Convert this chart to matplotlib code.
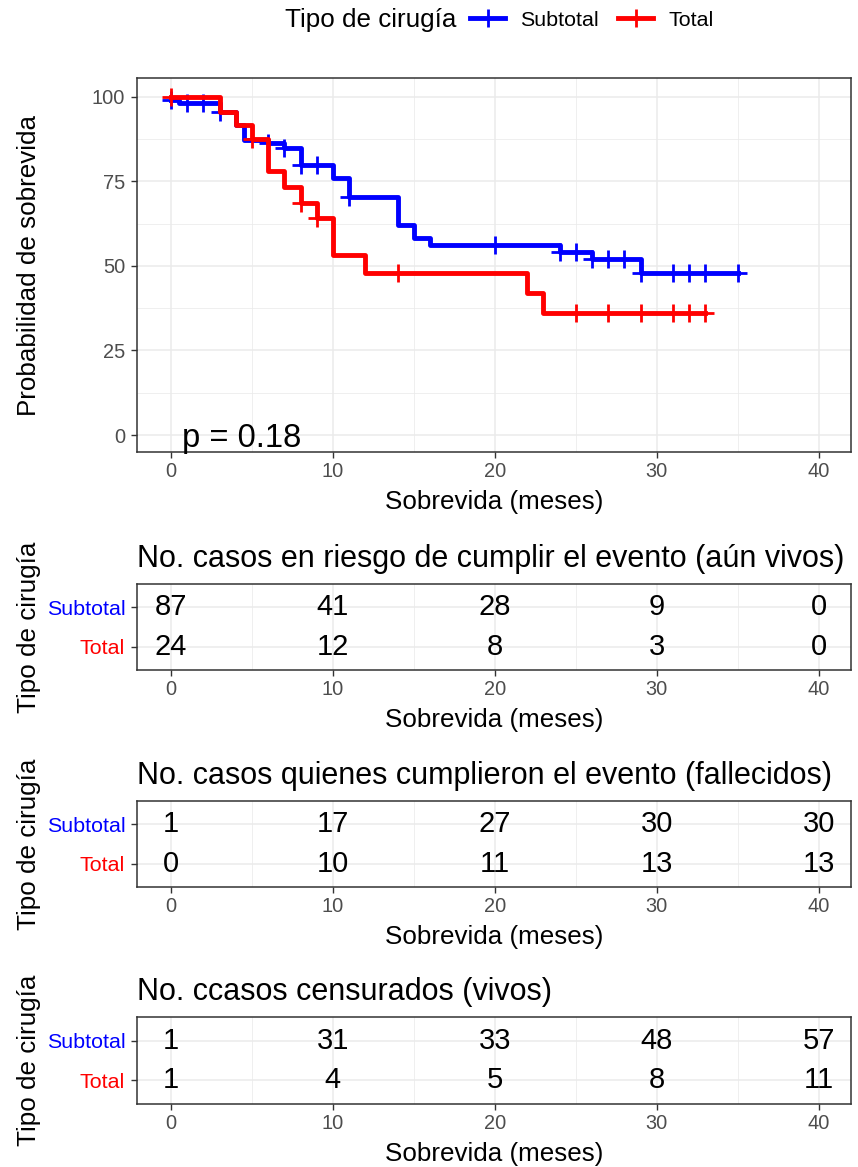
import numpy as np
import matplotlib.pyplot as plt
from matplotlib.lines import Line2D
from matplotlib.ticker import MultipleLocator

plt.rcParams['font.family'] = ['Liberation Sans', 'DejaVu Sans']

BLUE = '#0000FF'
RED = '#FF0000'

# Kaplan-Meier curves (months, % survival)
sub_t = [0, 0.5, 3, 4, 4.5, 6, 7, 8, 10, 11, 14, 15, 16, 24, 26, 29]
sub_s = [98.9, 98.2, 95.4, 91.7, 87.3, 86.3, 84.9, 79.8, 76.0, 70.2, 62.2, 58.3, 56.3, 54.2, 52.0, 48.0]
sub_end = 35
sub_cens = [0, 1, 2, 3, 6, 7, 8, 9, 11, 20, 24, 25, 26, 27, 28, 29, 31, 32, 33, 35]

tot_t = [0, 3, 4, 5, 6, 7, 8, 9, 10, 12, 22, 23]
tot_s = [100, 95.6, 91.7, 87.5, 78.0, 73.3, 68.6, 64.2, 53.3, 48.0, 42.0, 36.0]
tot_end = 33
tot_cens = [0, 5, 8, 9, 14, 25, 27, 29, 31, 32, 33]

p_label = 'p = 0.18'

# tables
table_times = [0, 10, 20, 30, 40]
groups = ['Subtotal', 'Total']
risk_sub = [87, 41, 28, 9, 0]
risk_tot = [24, 12, 8, 3, 0]
event_sub = [1, 17, 27, 30, 30]
event_tot = [0, 10, 11, 13, 13]
cens_sub = [1, 31, 33, 48, 57]
cens_tot = [1, 4, 5, 8, 11]

W, H = 858, 1167
fig = plt.figure(figsize=(W / 100, H / 100), dpi=100)

TITLE_FS = 18.7
TICK_FS = 14.4


def box(left, top, right, bottom):
    return [left / W, 1 - bottom / H, (right - left) / W, (bottom - top) / H]


def style(ax):
    for sp in ax.spines.values():
        sp.set_color('#333333')
        sp.set_linewidth(1.1)
    ax.tick_params(which='major', length=4, width=1.0, color='#333333',
                   labelsize=TICK_FS, labelcolor='#4D4D4D')
    ax.tick_params(axis='x', pad=3)
    ax.tick_params(axis='y', pad=4.5)
    ax.tick_params(which='minor', length=0)
    ax.grid(which='major', color='#EBEBEB', lw=1.1)
    ax.grid(which='minor', color='#EBEBEB', lw=0.55)
    ax.set_axisbelow(True)
    ax.set_xlim(-2.1, 42)
    ax.xaxis.set_major_locator(MultipleLocator(10))
    ax.xaxis.set_minor_locator(MultipleLocator(5))


def surv_at(t, s, x):
    idx = np.searchsorted(t, x, side='right') - 1
    return np.array(s)[idx]


# main survival plot
ax = fig.add_axes(box(137, 78, 851, 452))
style(ax)
for t, s, end, cens, col in [(sub_t, sub_s, sub_end, sub_cens, BLUE),
                             (tot_t, tot_s, tot_end, tot_cens, RED)]:
    ax.step(t + [end], s + [s[-1]], where='post', color=col, lw=3.5)
    ax.plot(cens, surv_at(t, s, cens), ls='none', marker='+', ms=13,
            mew=2.0, color=col)
ax.set_ylim(-5, 105.5)
ax.yaxis.set_major_locator(MultipleLocator(25))
ax.yaxis.set_minor_locator(MultipleLocator(12.5))
ax.set_xlabel('Sobrevida (meses)', fontsize=TITLE_FS, labelpad=6.5)
ax.set_ylabel('Probabilidad de sobrevida', fontsize=TITLE_FS)
ax.yaxis.set_label_coords(-0.135, 0.5)
ax.text(0.65, -1, p_label, fontsize=23.5, ha='left', va='center')

# legend on top
fig.text(456 / W, 1 - 20 / H, 'Tipo de cirugía', fontsize=TITLE_FS,
         ha='right', va='center')
handles = [Line2D([], [], color=BLUE, lw=3.5, marker='+', ms=13, mew=2.0),
           Line2D([], [], color=RED, lw=3.5, marker='+', ms=13, mew=2.0)]
fig.legend(handles, groups, ncol=2, loc='center left',
           bbox_to_anchor=(470 / W, 1 - 20 / H), frameon=False,
           fontsize=15.4, handlelength=1.65, handletextpad=0.7,
           columnspacing=0.9, borderaxespad=0, borderpad=0)

tables = [
    ('No. casos en riesgo de cumplir el evento (aún vivos)', risk_sub, risk_tot, 584, 670),
    ('No. casos quienes cumplieron el evento (fallecidos)', event_sub, event_tot, 801, 887),
    ('No. ccasos censurados (vivos)', cens_sub, cens_tot, 1017, 1104),
]
for title, vals_sub, vals_tot, top, bottom in tables:
    tx = fig.add_axes(box(137, top, 851, bottom))
    style(tx)
    tx.set_ylim(0.4, 2.6)
    tx.set_yticks([2, 1])
    tx.set_yticklabels(groups, fontsize=15.4)
    for lab, col in zip(tx.get_yticklabels(), [BLUE, RED]):
        lab.set_color(col)
    for x, a, b in zip(table_times, vals_sub, vals_tot):
        tx.text(x, 2, str(a), fontsize=21, ha='center', va='center')
        tx.text(x, 1, str(b), fontsize=21, ha='center', va='center')
    tx.set_title(title, loc='left', fontsize=22, pad=12)
    tx.set_xlabel('Sobrevida (meses)', fontsize=TITLE_FS, labelpad=6.5)
    tx.set_ylabel('Tipo de cirugía', fontsize=TITLE_FS)
    tx.yaxis.set_label_coords(-0.135, 0.5)

fig.savefig('out.png', dpi=100)
